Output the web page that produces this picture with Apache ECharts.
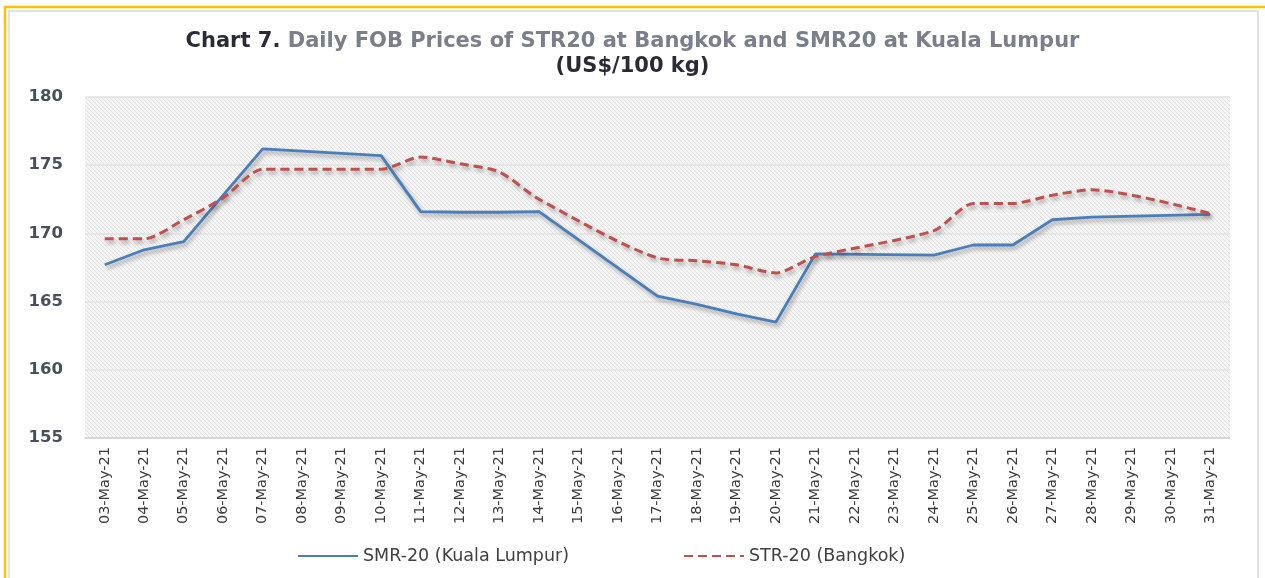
<!DOCTYPE html>
<html>
<head>
<meta charset="utf-8">
<script src="https://cdn.jsdelivr.net/npm/echarts@6/dist/echarts.min.js"></script>
<style>
  html, body { margin: 0; padding: 0; background: #fff; }
  #container7 { width: 1265px; height: 578px; }
</style>
</head>
<body>
<div id="container7"></div>
<script>
/* Chart 7 - daily FOB prices */
var dates = ['03-May-21','04-May-21','05-May-21','06-May-21','07-May-21','08-May-21','09-May-21',
             '10-May-21','11-May-21','12-May-21','13-May-21','14-May-21','15-May-21','16-May-21',
             '17-May-21','18-May-21','19-May-21','20-May-21','21-May-21','22-May-21','23-May-21',
             '24-May-21','25-May-21','26-May-21','27-May-21','28-May-21','29-May-21','30-May-21',
             '31-May-21'];
// weekends have no quote -> null
var smr20 = [167.7, 168.8, 169.4, 172.8, 176.2, null, null,
             175.7, 171.6, 171.55, 171.55, 171.6, null, null,
             165.4, 164.8, 164.1, 163.5, 168.5, null, null,
             168.4, 169.15, 169.15, 171.0, 171.2, null, null,
             171.4];
var str20 = [169.6, 169.6, 171.0, 172.6, 174.7, null, null,
             174.7, 175.6, 175.1, 174.5, 172.5, null, null,
             168.2, 168.0, 167.7, 167.1, 168.3, null, null,
             170.2, 172.2, 172.2, 172.8, 173.2, null, null,
             171.45];
var yTicks = [155, 160, 165, 170, 175, 180];

// hatch pattern for plot background
var hatch = document.createElement('canvas');
hatch.width = 4; hatch.height = 4;
var hctx = hatch.getContext('2d');
hctx.fillStyle = '#f6f6f6';
hctx.fillRect(0, 0, 4, 4);
hctx.fillStyle = '#e0e0e0';
for (var i = 0; i < 4; i++) { hctx.fillRect(i, i, 1, 1); }

var dom = document.getElementById("container7");
var myChart = echarts.init(dom);
var option = null;

option = {
    backgroundColor: '#ffffff',
    animation: false,
    title: {
        left: 'center',
        top: 24,
        text: '{a|Chart 7. }{b|Daily FOB Prices of STR20 at Bangkok and SMR20 at Kuala Lumpur}\n{a|(US$/100 kg)}',
        textStyle: {
            rich: {
                a: { fontFamily: 'DejaVu Sans', fontSize: 21, fontWeight: 'bold', color: '#2b2b35', lineHeight: 25 },
                b: { fontFamily: 'DejaVu Sans', fontSize: 21, fontWeight: 'bold', color: '#7b7f8c', lineHeight: 25 }
            }
        }
    },
    graphic: [
        { type: 'rect', silent: true, shape: { x: 5, y: 7, width: 1290, height: 600 },
          style: { fill: 'none', stroke: '#ffc000', lineWidth: 2.5 } },
        { type: 'rect', silent: true, shape: { x: 9, y: 11, width: 1249, height: 600 },
          style: { fill: 'none', stroke: '#e2e2e2', lineWidth: 2 } }
    ],
    legend: {
        left: 292,
        top: 542,
        itemWidth: 60,
        itemHeight: 14,
        itemGap: 114,
        itemStyle: { opacity: 0 },
        textStyle: { fontFamily: 'DejaVu Sans', fontSize: 17.5, color: '#404040' },
        data: ['SMR-20 (Kuala Lumpur)', 'STR-20 (Bangkok)']
    },
    grid: {
        left: 85,
        right: 35,
        top: 97,
        bottom: 140,
        show: true,
        borderWidth: 0,
        backgroundColor: { image: hatch, repeat: 'repeat' }
    },
    xAxis: {
        type: 'category',
        data: dates,
        boundaryGap: true,
        axisLine: { lineStyle: { color: '#d0d0d0', width: 1.5 } },
        axisTick: { show: false },
        axisLabel: {
            rotate: 90,
            margin: 9,
            interval: 0,
            fontFamily: 'DejaVu Sans',
            fontSize: 14.5,
            color: '#3a3a3a'
        }
    },
    yAxis: {
        type: 'value',
        min: yTicks[0],
        max: yTicks[yTicks.length - 1],
        interval: 5,
        axisLine: { show: false },
        axisTick: { show: false },
        axisLabel: {
            margin: 22,
            fontFamily: 'DejaVu Sans',
            fontSize: 16.5,
            fontWeight: 'bold',
            color: '#4a4f5c'
        },
        splitLine: { lineStyle: { color: '#e2e2e2', width: 1.5 } }
    },
    series: [
        {
            name: 'SMR-20 (Kuala Lumpur)',
            type: 'line',
            data: smr20,
            connectNulls: true,
            symbol: 'none',
            color: '#4a7ebb',
            lineStyle: {
                color: '#4a7ebb', width: 2.8,
                shadowColor: 'rgba(0,0,0,0.35)', shadowBlur: 4, shadowOffsetX: 2, shadowOffsetY: 3
            }
        },
        {
            name: 'STR-20 (Bangkok)',
            type: 'line',
            data: str20,
            connectNulls: true,
            smooth: 0.25,
            symbol: 'none',
            color: '#c0504d',
            lineStyle: {
                color: '#c0504d', width: 3, type: [9, 5],
                shadowColor: 'rgba(0,0,0,0.35)', shadowBlur: 4, shadowOffsetX: 2, shadowOffsetY: 3
            }
        }
    ]
};
if (option && typeof option === "object") {
    myChart.setOption(option, true);
}
</script>
</body>
</html>
